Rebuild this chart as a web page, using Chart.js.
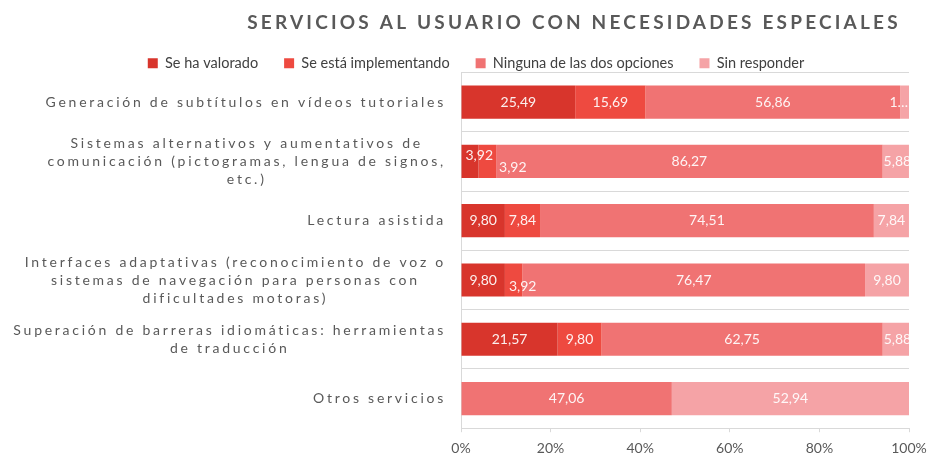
<!DOCTYPE html>
<html>
<head>
<meta charset="utf-8">
<script src="https://cdn.jsdelivr.net/npm/chart.js@4/dist/chart.umd.min.js"></script>
<style>
  html, body { margin: 0; padding: 0; background: #fff; }
  #wrap { width: 928px; height: 457px; position: relative; }
</style>
</head>
<body>
<div id="wrap"><canvas id="grafico"></canvas></div>
<script>
// categorías (cada una partida en líneas como en el eje)
const categorias = [
    ["Generación de subtítulos en vídeos tutoriales"],
    ["Sistemas alternativos y aumentativos de", "comunicación (pictogramas, lengua de signos,", "etc.)"],
    ["Lectura asistida"],
    ["Interfaces adaptativas (reconocimiento de voz o", "sistemas de navegación para personas con", "dificultades motoras)"],
    ["Superación de barreras idiomáticas: herramientas", "de traducción"],
    ["Otros servicios"]
];

const series = ["Se ha valorado", "Se está implementando", "Ninguna de las dos opciones", "Sin responder"];

const haValorado     = [25.49, 3.92, 9.80, 9.80, 21.57, 0];
const implementando  = [15.69, 3.92, 7.84, 3.92, 9.80, 0];
const ninguna        = [56.86, 86.27, 74.51, 76.47, 62.75, 47.06];
const sinResponder   = [1.96, 5.88, 7.84, 9.80, 5.88, 52.94];

const ticksX = [0, 20, 40, 60, 80, 100];

const titulo = "SERVICIOS AL USUARIO CON NECESIDADES ESPECIALES";

const colores = ["#d8352c", "#ee4a40", "#f07373", "#f5a3a6"];
const fuente = "Lato, 'Open Sans', sans-serif";

function formatoValor(v) {
    return v.toFixed(2).replace(".", ",");
}

// la leyenda ocupa menos alto que el calculado por defecto
const pluginLeyenda = {
    id: "ajusteLeyenda",
    beforeInit(chart) {
        const fitOriginal = chart.legend.fit;
        chart.legend.fit = function () {
            fitOriginal.bind(chart.legend)();
            this.height -= 8;
        };
    }
};

// título con espaciado entre letras
const pluginTitulo = {
    id: "tituloEspaciado",
    afterDraw(chart) {
        const ctx = chart.ctx;
        ctx.save();
        ctx.letterSpacing = "3.2px";
        ctx.font = "bold 19px " + fuente;
        ctx.fillStyle = "#595959";
        ctx.textAlign = "center";
        ctx.textBaseline = "middle";
        ctx.fillText(titulo, 574, 23);
        ctx.restore();
    }
};

// etiquetas de categoría: bloque alineado a la derecha, líneas centradas
const pluginCategorias = {
    id: "etiquetasCategorias",
    afterDraw(chart) {
        const ctx = chart.ctx;
        const escalaY = chart.scales.y;
        const derecha = 446;
        const altoLinea = 18;
        ctx.save();
        ctx.letterSpacing = "2.75px";
        ctx.font = "14px " + fuente;
        ctx.fillStyle = "#595959";
        ctx.textAlign = "center";
        ctx.textBaseline = "middle";
        categorias.forEach((lineas, i) => {
            const yc = escalaY.getPixelForValue(i);
            const ancho = Math.max(...lineas.map(l => ctx.measureText(l).width));
            const xc = derecha - ancho / 2;
            const y0 = yc - (lineas.length - 1) * altoLinea / 2;
            lineas.forEach((l, k) => ctx.fillText(l, xc, y0 + k * altoLinea));
        });
        ctx.restore();
    }
};

// valores dentro de cada tramo de barra
const pluginValores = {
    id: "valoresBarras",
    afterDatasetsDraw(chart) {
        const ctx = chart.ctx;
        const area = chart.chartArea;
        ctx.save();
        ctx.font = "14px " + fuente;
        ctx.fillStyle = "rgba(255,255,255,0.92)";
        ctx.textBaseline = "middle";
        ctx.textAlign = "left";
        const nDatasets = chart.data.datasets.length;
        for (let i = 0; i < categorias.length; i++) {
            let finAnterior = null;
            for (let d = 0; d < nDatasets; d++) {
                const valor = chart.data.datasets[d].data[i];
                if (!valor) continue;
                const barra = chart.getDatasetMeta(d).data[i];
                const ini = Math.min(barra.base, barra.x);
                const fin = Math.max(barra.base, barra.x);
                const anchoTramo = fin - ini;
                let texto = formatoValor(valor);
                let w = ctx.measureText(texto).width;
                const ultimo = d === nDatasets - 1 || chart.data.datasets.slice(d + 1).every(ds => !ds.data[i]);
                let x, y = barra.y;

                if (w + 4 <= anchoTramo) {
                    x = ini + (anchoTramo - w) / 2;
                } else if (ultimo) {
                    if (w <= anchoTramo + 6) {
                        x = ini + 1;
                    } else {
                        while (texto.length > 1 && ctx.measureText(texto + "…").width > anchoTramo + 8) {
                            texto = texto.slice(0, -1);
                        }
                        texto = texto + "…";
                        w = ctx.measureText(texto).width;
                        x = area.right - w - 1;
                    }
                } else {
                    x = ini + 4;
                    if (finAnterior !== null) x = Math.max(x, finAnterior + 6);
                    y = barra.y + (d === 0 ? -6 : 6);
                }

                ctx.save();
                ctx.beginPath();
                ctx.rect(area.left, area.top, area.right - area.left, area.bottom - area.top);
                ctx.clip();
                ctx.fillText(texto, x, y);
                ctx.restore();
                finAnterior = x + w;
            }
        }
        ctx.restore();
    }
};

const ctx = document.getElementById("grafico").getContext("2d");
new Chart(ctx, {
    type: "bar",
    data: {
        labels: categorias.map(c => c.join(" ")),
        datasets: [
            { label: series[0], data: haValorado, backgroundColor: colores[0] },
            { label: series[1], data: implementando, backgroundColor: colores[1] },
            { label: series[2], data: ninguna, backgroundColor: colores[2] },
            { label: series[3], data: sinResponder, backgroundColor: colores[3] }
        ]
    },
    options: {
        indexAxis: "y",
        responsive: true,
        maintainAspectRatio: false,
        animation: false,
        layout: { padding: { left: 43, right: 19, top: 30, bottom: -8 } },
        datasets: { bar: { categoryPercentage: 1, barPercentage: 0.56, borderWidth: 0 } },
        scales: {
            x: {
                stacked: true,
                min: 0,
                max: 100,
                afterBuildTicks: scale => { scale.ticks = ticksX.map(v => ({ value: v })); },
                afterFit: scale => { scale.paddingLeft = 0; scale.paddingRight = 0; },
                ticks: {
                    callback: v => v + "%",
                    color: "#595959",
                    font: { family: fuente, size: 14 },
                    padding: 8,
                    maxRotation: 0
                },
                grid: { drawOnChartArea: false, drawTicks: true, tickLength: 4, color: "#d9d9d9" },
                border: { display: true, color: "#d9d9d9" }
            },
            y: {
                stacked: true,
                ticks: { display: false },
                grid: { color: "#d9d9d9", drawTicks: false, offset: true },
                border: { display: true, color: "#d9d9d9" },
                afterFit: scale => { scale.width = 418; }
            }
        },
        plugins: {
            legend: {
                position: "top",
                labels: {
                    boxWidth: 10,
                    boxHeight: 10,
                    padding: 26,
                    color: "#404040",
                    font: { family: fuente, size: 14.5 }
                }
            },
            title: { display: false },
            tooltip: { enabled: false }
        }
    },
    plugins: [pluginLeyenda, pluginTitulo, pluginCategorias, pluginValores]
});
</script>
</body>
</html>
